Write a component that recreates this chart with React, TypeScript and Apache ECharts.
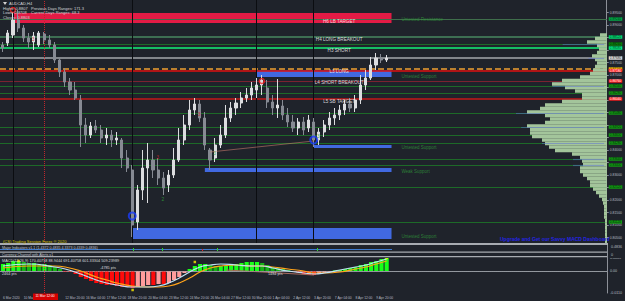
import React, { useEffect, useRef } from 'react';
import * as echarts from 'echarts';

// x-axis tick labels (every 4th slot)
const tickLabels = ['6 Mar 2020', '10 Mar', '11 Mar 12:00', '12 Mar 20:00', '16 Mar 04:00', '17 Mar 12:00', '18 Mar 20:00', '20 Mar 04:00', '23 Mar 12:00', '24 Mar 20:00', '26 Mar 04:00', '27 Mar 12:00', '30 Mar 20:00', '1 Apr 04:00', '2 Apr 12:00', '3 Apr 20:00', '7 Apr 04:00', '8 Apr 12:00', '9 Apr 20:00'];
const highlightedTick = 2; // shown in the red crosshair box instead
const slotCount = 117;

// candles: [open, close, low, high]
const candles = [
  [0.8820, 0.8808, 0.8792, 0.8832], [0.8828, 0.8868, 0.8816, 0.8880], [0.8860, 0.8920, 0.8848, 0.8952], [0.8920, 0.8888, 0.8872, 0.8960],
  [0.8888, 0.8848, 0.8832, 0.8900], [0.8848, 0.8832, 0.8808, 0.8868], [0.8832, 0.8856, 0.8800, 0.8872], [0.8820, 0.8868, 0.8812, 0.8876],
  [0.8864, 0.8840, 0.8824, 0.8872], [0.8840, 0.8820, 0.8808, 0.8860], [0.8820, 0.8760, 0.8748, 0.8832], [0.8760, 0.8712, 0.8692, 0.8768],
  [0.8712, 0.8672, 0.8652, 0.8728], [0.8672, 0.8640, 0.8620, 0.8688], [0.8640, 0.8608, 0.8600, 0.8672], [0.8600, 0.8500, 0.8412, 0.8620],
  [0.8500, 0.8460, 0.8428, 0.8528], [0.8460, 0.8496, 0.8448, 0.8512], [0.8496, 0.8480, 0.8468, 0.8520], [0.8480, 0.8448, 0.8428, 0.8500],
  [0.8448, 0.8460, 0.8420, 0.8488], [0.8460, 0.8440, 0.8412, 0.8480], [0.8440, 0.8448, 0.8420, 0.8472], [0.8440, 0.8368, 0.8328, 0.8448],
  [0.8368, 0.8328, 0.8312, 0.8400], [0.8320, 0.8100, 0.8052, 0.8340], [0.8112, 0.8240, 0.8080, 0.8260], [0.8240, 0.8328, 0.8200, 0.8400],
  [0.8328, 0.8360, 0.8188, 0.8428], [0.8360, 0.8320, 0.8288, 0.8400], [0.8320, 0.8288, 0.8260, 0.8368], [0.8288, 0.8248, 0.8220, 0.8312],
  [0.8260, 0.8300, 0.8232, 0.8320], [0.8300, 0.8360, 0.8288, 0.8408], [0.8360, 0.8440, 0.8352, 0.8488], [0.8440, 0.8500, 0.8420, 0.8540],
  [0.8500, 0.8560, 0.8480, 0.8600], [0.8560, 0.8584, 0.8540, 0.8608], [0.8584, 0.8528, 0.8512, 0.8600], [0.8528, 0.8420, 0.8400, 0.8552],
  [0.8400, 0.8360, 0.8320, 0.8408], [0.8368, 0.8420, 0.8352, 0.8448], [0.8420, 0.8460, 0.8408, 0.8500], [0.8460, 0.8528, 0.8448, 0.8580],
  [0.8528, 0.8568, 0.8512, 0.8592], [0.8568, 0.8588, 0.8540, 0.8608], [0.8588, 0.8608, 0.8568, 0.8632], [0.8608, 0.8620, 0.8592, 0.8648],
  [0.8620, 0.8648, 0.8600, 0.8672], [0.8640, 0.8660, 0.8608, 0.8688], [0.8660, 0.8680, 0.8620, 0.8700], [0.8648, 0.8592, 0.8568, 0.8680],
  [0.8592, 0.8568, 0.8540, 0.8620], [0.8568, 0.8580, 0.8528, 0.8684], [0.8576, 0.8540, 0.8520, 0.8600], [0.8540, 0.8512, 0.8492, 0.8568],
  [0.8512, 0.8488, 0.8472, 0.8540], [0.8488, 0.8512, 0.8460, 0.8528], [0.8512, 0.8480, 0.8460, 0.8532], [0.8488, 0.8520, 0.8472, 0.8540],
  [0.8512, 0.8440, 0.8412, 0.8528], [0.8440, 0.8472, 0.8420, 0.8488], [0.8472, 0.8500, 0.8452, 0.8520], [0.8500, 0.8528, 0.8480, 0.8552],
  [0.8528, 0.8540, 0.8500, 0.8568], [0.8540, 0.8560, 0.8520, 0.8580], [0.8560, 0.8584, 0.8540, 0.8600], [0.8584, 0.8568, 0.8552, 0.8608],
  [0.8568, 0.8600, 0.8552, 0.8620], [0.8600, 0.8660, 0.8584, 0.8700], [0.8660, 0.8688, 0.8640, 0.8720], [0.8688, 0.8740, 0.8680, 0.8772],
  [0.8740, 0.8768, 0.8720, 0.8788], [0.8768, 0.8760, 0.8748, 0.8784], [0.8760, 0.8768, 0.8752, 0.8780],
];

// horizontal levels
const levelPrices = [0.8924, 0.8852, 0.8824, 0.8808, 0.8768, 0.8724, 0.8718, 0.8676, 0.8656, 0.8628, 0.8604, 0.8548, 0.8492, 0.8460, 0.8428, 0.8364, 0.8340, 0.8252, 0.8112];

// supply / demand zones
const zoneStart = [2, 49, 60, 39, 25];
const zoneEnd = [75, 75, 75, 75, 75];
const zoneTop = [0.8948, 0.8718, 0.8420, 0.8328, 0.8088];
const zoneBottom = [0.8908, 0.8692, 0.8408, 0.8312, 0.8044];

// zone captions
const zoneLabelText = ['H6 LB TARGET', 'H4 LONG BREAKOUT', 'H3 SHORT', 'L3 LONG', 'L4 SHORT BREAKOUT', 'L5 SB TARGET'];
const zoneLabelIdx = [65, 65, 65, 65, 65, 65];
const zoneLabelPrice = [0.8913, 0.8839, 0.8796, 0.8711, 0.8669, 0.8593];

const srText = ['Untested Resistance', 'Untested Support', 'Untested Support', 'Weak Support', 'Untested Support'];
const srIdx = [77, 77, 77, 77, 77];
const srPrice = [0.8920, 0.8692, 0.8408, 0.8312, 0.8052];

// vertical separators
const separatorIdx = [2, 25, 49, 60];
const crosshairIdx = 8;

// trend line
const trendFrom = [40, 0.8392];
const trendTo = [60, 0.8436];

// profile cross segments
const crossStart = [108, 113, 106, 99, 100, 104, 110, 110];
const crossPrice = [0.8824, 0.8768, 0.8656, 0.8548, 0.8492, 0.8428, 0.8364, 0.8340];

// markers
const ringIdx = [25, 60];
const ringPrice = [0.8136, 0.8440];
const redRingIdx = [2, 50];
const redRingPrice = [0.8960, 0.8676];
const digitIdx = [6, 30, 38, 31, 41, 61];
const digitPrice = [0.8844, 0.8372, 0.8544, 0.8204, 0.8388, 0.8456];
const digitText = ['3', '3', '3', '2', '3', '3'];
const digitBear = [true, true, true, false, false, false];

// volume profile (bins from top 0.8860 down, step 0.0014)
const profileVolume = [7, 12, 20, 10, 8, 10, 15, 12, 10, 12, 14, 17, 27, 45, 55, 42, 32, 25, 25, 45, 62, 67, 80, 62, 57, 62, 80, 77, 77, 75, 65, 62, 58, 52, 35, 27, 25, 24, 27, 27, 24, 20, 17, 17, 14, 11, 8, 5, 4, 3, 3, 3, 3, 2, 2, 2, 2, 2, 2, 2];

// MACD
const macdHist = [0.0035, 0.004, 0.005, 0.005, 0.0045, 0.004, 0.004, 0.0035, 0.0035, 0.003,
  0.002, 0.001, -0.0005, -0.0005, -0.0015, -0.003, -0.004, -0.005, -0.006, -0.0065,
  -0.007, -0.007, -0.0075, -0.008, -0.008, -0.0085, -0.008, -0.0075, -0.007, -0.007,
  -0.0065, -0.0065, -0.006, -0.0045, -0.003, -0.001, 0.001, 0.0025, 0.0035, 0.0035,
  0.003, 0.0025, 0.0025, 0.0025, 0.003, 0.0035, 0.004, 0.0045, 0.0045, 0.0045,
  0.004, 0.003, 0.002, 0.0015, 0.001, 0.0005, -0.0005, -0.001, -0.0015, -0.002,
  -0.002, -0.0015, -0.001, -0.0005, 0.0003, 0.0005, 0.001, 0.0015, 0.002, 0.003,
  0.0035, 0.0045, 0.005, 0.006, 0.0065];
const macdLine = [[0, 0.0025], [5, 0.0035], [10, 0.002], [12, 0.001], [15, -0.0015], [18, -0.0045], [20, -0.006], [22, -0.007], [25, -0.008], [28, -0.008], [30, -0.0075], [32, -0.006], [34, -0.0035], [36, -0.0005], [38, 0.002], [40, 0.003], [42, 0.0035], [45, 0.003], [48, 0.0025], [50, 0.0025], [52, 0.0015], [55, 0], [58, -0.001], [60, -0.0015], [62, -0.001], [65, 0.0005], [68, 0.002], [70, 0.003], [72, 0.0045], [74, 0.006]];
const signalLine = [[0, 0.0015], [5, 0.0025], [10, 0.0025], [12, 0.002], [15, 0], [18, -0.003], [20, -0.0045], [22, -0.006], [25, -0.0075], [28, -0.008], [30, -0.008], [32, -0.0075], [34, -0.006], [36, -0.0035], [38, -0.0005], [40, 0.0015], [42, 0.0025], [45, 0.003], [48, 0.0025], [50, 0.0025], [52, 0.002], [55, 0.001], [58, 0], [60, -0.001], [62, -0.001], [65, -0.0005], [68, 0.001], [70, 0.002], [72, 0.0035], [74, 0.005]];
const slopeLine = [[43, 0.0005], [50, -0.0005], [60, -0.002]];
const macdDots = [[3, 0.005], [25, -0.0095], [37, 0.0045], [74, 0.0065]];

const BG = '#1f232b';
const FONT = 'Liberation Sans';

const levelStyle = (i: number) => {
  const lines = [
    ['#3f6e4b', 1, 'solid', '#00b34a', '#04200c'],
    ['#3d6e52', 2, 'solid', '#00e676', '#04200c'],
    ['#1d6a28', 1, 'solid', '#0a8a0a', '#03170a'],
    ['#14f07a', 1.5, 'solid', '#00ff88', '#04200c'],
    ['#a5a8ad', 1.5, 'solid', '#e8e8e8', '#111'],
    ['#f0a030', 1.5, 'dashed', '#ffd000', '#222'],
    ['#e01010', 1.5, 'solid', '#ff1a1a', '#fff'],
    ['#7b2230', 1, 'solid', '#ff1a1a', '#fff'],
    ['#1d6a28', 1, 'solid', '#12a012', '#03170a'],
    ['#1d6a28', 1, 'solid', '#12a012', '#03170a'],
    ['#c41818', 1.5, 'solid', '#ff1a1a', '#fff'],
  ];
  return lines[i] || ['#1d6a28', 1, 'solid', '#12a012', '#03170a'];
};

export default function App() {
  const ref = useRef<HTMLDivElement>(null);
  useEffect(() => {
    if (!ref.current) return;
    const chart = echarts.init(ref.current, undefined, { renderer: 'svg' });
    const slots = Array.from({ length: slotCount }, (_, i) => String(i));
    const profileBins = profileVolume.map((_, k) => (0.886 - 0.0014 * k).toFixed(4));

    const levelLines = levelPrices.map((p, i) => {
      const s = levelStyle(i) as any[];
      return {
        yAxis: p,
        lineStyle: { color: s[0], width: s[1], type: s[2] },
        label: {
          show: true, position: 'end', distance: 2, formatter: p.toFixed(5),
          backgroundColor: s[3], color: s[4], fontSize: 3.2, fontFamily: FONT, padding: [0.4, 1, 0, 1],
        },
      };
    });
    const vertLines = separatorIdx.map((x) => ({
      xAxis: x, lineStyle: { color: '#0b0d11', width: 1, type: 'solid' }, label: { show: false },
    }));
    const crossLine = {
      xAxis: crosshairIdx, lineStyle: { color: '#c0262c', width: 1, type: 'dotted' }, label: { show: false },
    };

    const zoneColors = ['#e31b45', '#4169e1', '#4169e1', '#4169e1', '#4169e1'];
    const zones = zoneStart.map((s, i) => [
      { xAxis: s, yAxis: zoneTop[i], itemStyle: { color: zoneColors[i], opacity: 1 } },
      { xAxis: zoneEnd[i], yAxis: zoneBottom[i] },
    ]);

    const nearLevel = (v: number) => levelPrices.some((p) => Math.abs(p - v) < 0.0011);

    const option: any = {
      backgroundColor: BG,
      animation: false,
      textStyle: { fontFamily: FONT },
      grid: [
        { left: 0, top: 0, width: 607, height: 250 },
        { left: 0, top: 258, width: 607, height: 35 },
        { left: 0, top: 33.25, width: 607, height: 210 },
      ],
      xAxis: [
        { type: 'category', gridIndex: 0, data: slots, boundaryGap: true, show: false },
        {
          type: 'category', gridIndex: 1, data: slots, boundaryGap: true,
          axisLine: { lineStyle: { color: '#8c9098', width: 1 } },
          axisTick: { show: false },
          axisLabel: {
            interval: 0, fontSize: 3.3, color: '#b8bcc4', align: 'left', margin: 3, fontFamily: FONT,
            formatter: (_v: string, idx: number) => {
              const k = idx / 4;
              return idx % 4 === 0 && k < tickLabels.length && k !== highlightedTick ? tickLabels[k] : '';
            },
          },
        },
        { type: 'value', gridIndex: 2, inverse: true, min: 0, max: 607, show: false },
      ],
      yAxis: [
        {
          type: 'value', gridIndex: 0, position: 'right', min: 0.8, max: 0.9, interval: 0.005,
          splitLine: { show: false },
          axisLine: { show: true, lineStyle: { color: '#8c9098' } },
          axisTick: { show: true, length: 2, lineStyle: { color: '#8c9098' } },
          axisLabel: {
            fontSize: 3.4, color: '#b8bcc4', margin: 3, fontFamily: FONT, showMinLabel: false, showMaxLabel: false,
            formatter: (v: number) => (nearLevel(v) ? '' : v.toFixed(5)),
          },
        },
        {
          type: 'value', gridIndex: 1, position: 'right', min: -0.011, max: 0.0065,
          splitLine: { show: false },
          axisLine: { show: true, lineStyle: { color: '#8c9098' } },
          axisTick: { show: false },
          axisLabel: {
            fontSize: 3.6, color: '#b8bcc4', margin: 3, fontFamily: FONT,
            formatter: (v: number) => (Math.abs(v) < 1e-9 ? '0.00' : (Math.abs(v - 0.0065) < 1e-9 || Math.abs(v + 0.011) < 1e-9 ? v.toFixed(4) : '')),
          },
        },
        { type: 'category', gridIndex: 2, data: profileBins, inverse: true, show: false, boundaryGap: true },
      ],
      series: [
        {
          type: 'candlestick', name: 'AUDCAD', xAxisIndex: 0, yAxisIndex: 0, data: candles, z: 4,
          barMaxWidth: 3,
          itemStyle: { color: '#dcdde0', color0: '#868a93', borderColor: '#dcdde0', borderColor0: '#868a93', borderWidth: 1 },
          markArea: { silent: true, z: 1, data: zones },
          markLine: { silent: true, z: 3, precision: 5, symbol: ['none', 'none'], data: [...levelLines, ...vertLines, crossLine] },
        },
        {
          type: 'bar', name: 'profile', xAxisIndex: 2, yAxisIndex: 2, data: profileVolume, z: 5,
          barWidth: '100%', itemStyle: { color: '#a3c59b' }, silent: true,
        },
        {
          type: 'lines', coordinateSystem: 'cartesian2d', xAxisIndex: 0, yAxisIndex: 0, z: 7, silent: true,
          data: [
            { coords: [trendFrom, trendTo], lineStyle: { color: '#e8897a', width: 1 } },
            ...crossStart.map((s, i) => ({ coords: [[s, crossPrice[i]], [116, crossPrice[i]]], lineStyle: { color: '#5b6fd6', width: 1.2 } })),
          ],
        },
        {
          type: 'scatter', xAxisIndex: 0, yAxisIndex: 0, z: 9, symbolSize: 1, silent: true,
          itemStyle: { color: 'transparent' },
          data: zoneLabelText.map((t, i) => [zoneLabelIdx[i], zoneLabelPrice[i], t]),
          label: { show: true, position: [0, 0], align: 'center', verticalAlign: 'middle', color: '#ffffff', fontSize: 4.6, fontFamily: FONT, formatter: (p: any) => p.data[2] },
        },
        {
          type: 'scatter', xAxisIndex: 0, yAxisIndex: 0, z: 9, symbolSize: 1, silent: true,
          itemStyle: { color: 'transparent' },
          data: srText.map((t, i) => [srIdx[i], srPrice[i], t]),
          label: { show: true, position: [0, 0], align: 'left', verticalAlign: 'middle', color: '#2f9a3a', fontSize: 4.5, fontFamily: FONT, formatter: (p: any) => p.data[2] },
        },
        {
          type: 'scatter', xAxisIndex: 0, yAxisIndex: 0, z: 8, symbol: 'circle', symbolSize: 7, silent: true,
          itemStyle: { color: 'transparent', borderColor: '#1a3cff', borderWidth: 2 },
          data: ringIdx.map((x, i) => [x, ringPrice[i]]),
        },
        {
          type: 'scatter', xAxisIndex: 0, yAxisIndex: 0, z: 8, symbol: 'circle', symbolSize: 5, silent: true,
          itemStyle: { color: 'transparent', borderColor: '#ff2020', borderWidth: 1.5 },
          data: redRingIdx.map((x, i) => [x, redRingPrice[i]]),
        },
        {
          type: 'scatter', xAxisIndex: 0, yAxisIndex: 0, z: 8, symbolSize: 1, silent: true,
          itemStyle: { color: 'transparent' },
          data: digitIdx.map((x, i) => ({
            value: [x, digitPrice[i], digitText[i]],
            label: { color: digitBear[i] ? '#d02020' : '#2fa33a' },
          })),
          label: { show: true, position: [0, 0], align: 'center', verticalAlign: 'middle', fontSize: 5, fontFamily: FONT, formatter: (p: any) => p.data.value[2] },
        },
        {
          type: 'bar', name: 'MACD', xAxisIndex: 1, yAxisIndex: 1, data: macdHist, barWidth: '80%', z: 3,
          itemStyle: {
            color: (p: any) => {
              const v = p.value;
              const prev = p.dataIndex > 0 ? macdHist[p.dataIndex - 1] : v;
              if (v >= 0) return v >= prev ? '#19ff19' : '#13b513';
              return v <= prev ? '#ff0a0a' : '#ff9c9c';
            },
          },
          markLine: {
            silent: true, precision: 5, symbol: ['none', 'none'],
            data: [
              { yAxis: 0, lineStyle: { color: '#9aa0a6', type: 'dotted', width: 1 }, label: { show: false } },
              { xAxis: crosshairIdx, lineStyle: { color: '#c0262c', type: 'dotted', width: 1 }, label: { show: false } },
            ],
          },
        },
        {
          type: 'line', xAxisIndex: 1, yAxisIndex: 1, data: slopeLine, showSymbol: false, z: 4,
          lineStyle: { color: '#a8685c', width: 1 },
        },
        {
          type: 'line', xAxisIndex: 1, yAxisIndex: 1, data: signalLine, smooth: true, showSymbol: false, z: 5,
          lineStyle: { color: '#ffa31a', width: 1.2 },
        },
        {
          type: 'line', xAxisIndex: 1, yAxisIndex: 1, data: macdLine, smooth: true, showSymbol: false, z: 6,
          lineStyle: { color: '#bfe3f5', width: 1.2 },
        },
        {
          type: 'scatter', xAxisIndex: 1, yAxisIndex: 1, data: macdDots, symbol: 'rect', symbolSize: 2.5, z: 7,
          itemStyle: { color: '#ffee00' },
        },
      ],
      graphic: [
        { type: 'rect', z: 50, shape: { x: 0, y: 243, width: 625, height: 15 }, style: { fill: BG } },
        { type: 'rect', z: 51, shape: { x: 0, y: 243, width: 608, height: 2 }, style: { fill: '#a7abb1' } },
        { type: 'rect', z: 51, shape: { x: 0, y: 251.5, width: 608, height: 1.2 }, style: { fill: '#a7abb1' } },
        { type: 'rect', z: 51, shape: { x: 0, y: 256, width: 608, height: 1.2 }, style: { fill: '#a7abb1' } },
        { type: 'rect', z: 51, shape: { x: 607, y: 245, width: 1, height: 13 }, style: { fill: '#8c9098' } },
        { type: 'line', z: 52, shape: { x1: 0, y1: 249.5, x2: 392, y2: 249.5 }, style: { stroke: '#3d7bd0', lineWidth: 1 } },
        { type: 'rect', z: 53, shape: { x: 133, y: 248, width: 1, height: 3 }, style: { fill: '#2fd02f' } },
        { type: 'rect', z: 53, shape: { x: 162, y: 248, width: 1, height: 3 }, style: { fill: '#2fd02f' } },
        { type: 'rect', z: 53, shape: { x: 202, y: 249, width: 1, height: 2 }, style: { fill: '#e02020' } },
        { type: 'rect', z: 53, shape: { x: 217, y: 248, width: 1, height: 3 }, style: { fill: '#2fd02f' } },
        { type: 'rect', z: 53, shape: { x: 317, y: 248, width: 1, height: 3 }, style: { fill: '#2fd02f' } },
        { type: 'text', z: 60, x: 3, y: 239.5, style: { text: '(CS) Trading Session Forex ® 2020', fill: '#d8c400', fontSize: 4, fontFamily: FONT } },
        { type: 'text', z: 60, x: 2, y: 245.5, style: { text: 'Major Indicators v1.1 (1.4372 0.4835 4.3373 0.4339 0.4836)', fill: '#c4c7cc', fontSize: 3.6, fontFamily: FONT } },
        { type: 'text', z: 60, x: 2, y: 253, style: { text: 'Currency Channel with Alerts v1', fill: '#c4c7cc', fontSize: 3.6, fontFamily: FONT } },
        { type: 'text', z: 60, x: 2, y: 258.5, style: { text: 'MACD(12,26,9) 170.40758 88.9444 691.40758 601.33304 509.23989', fill: '#d8dadd', fontSize: 3.8, fontFamily: FONT } },
        { type: 'text', z: 60, x: 2, y: 271.5, style: { text: '2464 pts', fill: '#d8dadd', fontSize: 3.8, fontFamily: FONT } },
        { type: 'text', z: 60, x: 100, y: 266, style: { text: '-4785 pts', fill: '#d8dadd', fontSize: 3.8, fontFamily: FONT } },
        { type: 'text', z: 60, x: 268, y: 271.5, style: { text: '1484 pts', fill: '#d8dadd', fontSize: 3.8, fontFamily: FONT } },
        { type: 'text', z: 60, x: 611, y: 245, style: { text: '0.4836', fill: '#b8bcc4', fontSize: 3.6, fontFamily: FONT } },
        { type: 'text', z: 60, x: 611, y: 252.5, style: { text: '0', fill: '#b8bcc4', fontSize: 3.6, fontFamily: FONT } },
        { type: 'text', z: 60, x: 500, y: 236.5, style: { text: 'Upgrade and Get our Savvy MACD Dashboard', fill: '#2424e0', fontSize: 5, fontWeight: 'bold', fontFamily: FONT } },
        { type: 'rect', z: 60, shape: { x: 33, y: 293.5, width: 25, height: 6.5 }, style: { fill: '#d40000' } },
        { type: 'text', z: 61, x: 35.5, y: 294.8, style: { text: tickLabels[highlightedTick], fill: '#ffffff', fontSize: 3.3, fontFamily: FONT } },
        { type: 'polygon', z: 60, shape: { points: [[3, 2], [7, 2], [5, 5]] }, style: { fill: '#d0d0d0' } },
        { type: 'text', z: 60, x: 9, y: 1, style: { text: 'AUDCAD,H4', fill: '#d4d6da', fontSize: 4, fontFamily: FONT } },
        { type: 'text', z: 60, x: 3, y: 6, style: { text: 'Highs: 0.8807', fill: '#d4d6da', fontSize: 4, fontFamily: FONT } },
        { type: 'text', z: 60, x: 31, y: 6, style: { text: 'Previous Days Ranges: 171.3', fill: '#d4d6da', fontSize: 4, fontFamily: FONT } },
        { type: 'text', z: 60, x: 3, y: 10.5, style: { text: 'Lows: 0.8708', fill: '#d4d6da', fontSize: 4, fontFamily: FONT } },
        { type: 'text', z: 60, x: 31, y: 10.5, style: { text: 'Current Days Ranges: 68.3', fill: '#d4d6da', fontSize: 4, fontFamily: FONT } },
        { type: 'text', z: 60, x: 3, y: 15, style: { text: 'Closes: 0.8803', fill: '#d4d6da', fontSize: 4, fontFamily: FONT } },
      ],
    };
    chart.setOption(option);
    return () => chart.dispose();
  }, []);
  return <div ref={ref} style={{ position: 'absolute', left: 0, top: 0, width: 625, height: 301 }} />;
}
